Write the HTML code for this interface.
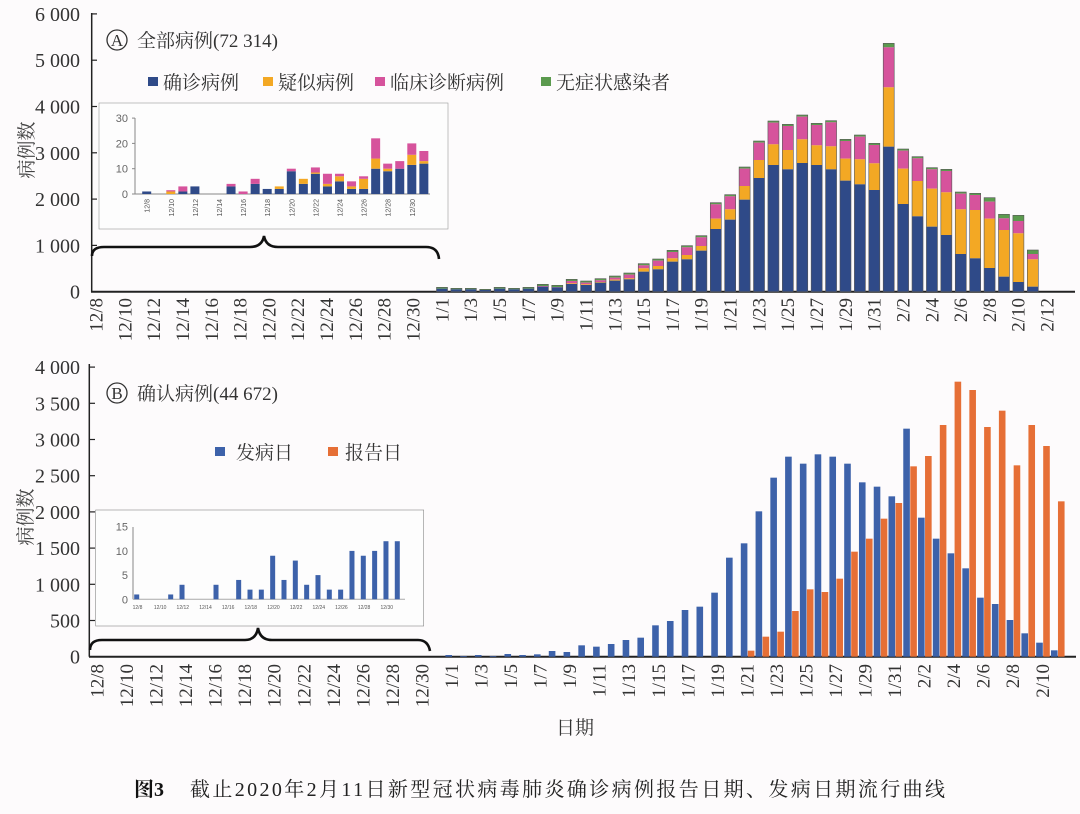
<!DOCTYPE html>
<html><head><meta charset="utf-8"><style>
html,body{margin:0;padding:0;background:#fdfbfc;}
svg{display:block;font-family:"Liberation Serif","Noto Serif CJK SC",serif;}
</style></head><body>
<svg id="s" width="1080" height="814" viewBox="0 0 1080 814" xmlns="http://www.w3.org/2000/svg">
<rect width="1080" height="814" fill="#fdfbfc"/>
<g id="g"></g>
</svg>
<script>
var NS="http://www.w3.org/2000/svg",G=document.getElementById('g');
function el(t,a,txt){var e=document.createElementNS(NS,t);for(var k in a)e.setAttribute(k,a[k]);if(txt!==undefined)e.textContent=txt;G.appendChild(e);return e;}
function rect(x,y,w,h,f,st){el('rect',{x:x,y:y,width:w,height:Math.max(h,0),fill:f,stroke:st||'none','stroke-width':st?0.6:0});}
var F='"Liberation Serif","Noto Serif CJK SC",serif', FS='"Liberation Sans","Noto Sans CJK SC",sans-serif';
var b0=291.7;
el('line',{x1:91.7,y1:13,x2:91.7,y2:b0,stroke:'#222','stroke-width':1.5});
el('line',{x1:91,y1:b0,x2:1075,y2:b0,stroke:'#222','stroke-width':2});
var yl=['0','1 000','2 000','3 000','4 000','5 000','6 000'];
for(var i=0;i<7;i++){var y=b0-i*46.3;el('line',{x1:91.7,y1:y,x2:97,y2:y,stroke:'#222','stroke-width':1.2});
el('text',{x:80,y:y+7,'text-anchor':'end','font-size':20,fill:'#333','font-family':F},yl[i]);}
el('text',{transform:'translate(33,150) rotate(-90)','text-anchor':'middle','font-size':19,fill:'#444','font-family':F},'病例数');
function dlabels(x0,step,yy,last){var ds=[],ix=[];for(var d=8;d<=30;d+=2){ds.push('12/'+d);ix.push(d-8);}for(var d=1;d<=31;d+=2){ds.push('1/'+d);ix.push(24+d-1);}for(var d=2;d<=last;d+=2){ds.push('2/'+d);ix.push(55+d-1);}
 ds.forEach(function(s,i){var x=x0+ix[i]*step;
 el('text',{transform:'translate('+(x+6.5)+','+yy+') rotate(-90)','text-anchor':'end','font-size':19,fill:'#333','font-family':F},s);});}
dlabels(96,14.41,298,12);
var T=[[772,776],[775,778],[775,778],[778,780],[772,776],[775,778],[772,776],[763,770],[766,772],[748,762,760],[753,765,763],[746,758,756],[738,752,749],[729,748,745],[701,725,715],[687,718,708],[661,695,685],[647,688,675],[617,662,648],[518,597,566],[494,569,538],[411,509,468],[333,444,390],[273,405,343],[283,418,360],[255,399,328],[280,405,346],[272,418,349],[328,452,386],[315,463,388],[340,480,400],[40,350,172,52],[357,522,416],[380,559,453],[413,590,476],[418,615,487],[486,672,538],[490,685,540],[503,714,566,515],[553,740,600,565],[556,756,610,573],[660,770,688,672]];
T.forEach(function(d,i){var cx=442+i*14.41,w=11,x=cx-w/2;function Y(v){return 30+v/3;}
 var tot=Y(d[0]),bl=Y(d[1]),or=Y(d[2]!==undefined?d[2]:d[1]),pk=Y(d[3]!==undefined?d[3]:d[0]+5);
 if(pk>or)pk=or;
 rect(x,tot,w,pk-tot,'#5b9a4e');rect(x,pk,w,or-pk,'#d6539c');rect(x,or,w,bl-or,'#f3a824');rect(x,bl,w,b0-bl,'#2f4a88');
 rect(x,tot,w,b0-tot,'none','#555');});
el('circle',{cx:117,cy:40,r:10,fill:'none',stroke:'#333','stroke-width':1.3});
el('text',{x:117,y:46,'text-anchor':'middle','font-size':17,fill:'#333','font-family':F},'A');
el('text',{x:137,y:47,'font-size':19,fill:'#333','font-family':F},'全部病例(72 314)');
[[148,'#2f4a88','确诊病例'],[263,'#f3a824','疑似病例'],[375,'#d6539c','临床诊断病例'],[541,'#5b9a4e','无症状感染者']].forEach(function(l){
 rect(l[0],77,10,9,l[1]);el('text',{x:l[0]+15,y:89,'font-size':19,fill:'#333','font-family':F},l[2]);});
rect(99,103,349,126,'#fdfdfd','#999');
el('line',{x1:135,y1:118,x2:135,y2:194,stroke:'#888','stroke-width':1});
el('line',{x1:135,y1:194,x2:430,y2:194,stroke:'#888','stroke-width':1});
['0','10','20','30'].forEach(function(s,i){var y=194-i*25.3;el('line',{x1:132,y1:y,x2:135,y2:y,stroke:'#888'});el('text',{x:128,y:y+4,'text-anchor':'end','font-size':11,fill:'#666','font-family':FS},s);});
for(var k=0;k<12;k++){var x=146.7+k*2*12.05;el('text',{transform:'translate('+(x+3)+',199) rotate(-90)','text-anchor':'end','font-size':7,fill:'#555','font-family':FS},'12/'+(8+2*k));}
var IA={0:[1,0,0],2:[0,1,0.5],3:[1,0,2],4:[3,0,0],7:[3,0,1],8:[0,0,1],9:[4,0,2],10:[2,0,0],11:[2,1,0],12:[9,0,1],13:[4,2,0],14:[8,0.5,2],15:[3,1,4],16:[5,2,1],17:[2,1,2],18:[2,4,1],19:[10,4,8],20:[9,1,2],21:[10,0,3],22:[11.5,4,4.5],23:[12,1,4]};
for(var k in IA){var v=IA[k],x=146.7+k*12.05-4.5,s=2.53,y=194;
 var hb=v[0]*s,ho=v[1]*s,hp=v[2]*s;rect(x,y-hb,9,hb,'#2f4a88');rect(x,y-hb-ho,9,ho,'#f3a824');rect(x,y-hb-ho-hp,9,hp,'#d6539c');}
el('path',{d:'M92,256 Q92,247 104,247 L250,247 Q262,247 264,236 Q266,247 278,247 L426,247 Q438,247 439,259',fill:'none',stroke:'#111','stroke-width':2.6});
var b1=656.7;
el('line',{x1:89.3,y1:364,x2:89.3,y2:b1,stroke:'#222','stroke-width':1.5});
el('line',{x1:89,y1:b1,x2:1076,y2:b1,stroke:'#222','stroke-width':2});
var yl2=['0','500','1 000','1 500','2 000','2 500','3 000','3 500','4 000'];
for(var i=0;i<9;i++){var y=b1-i*36.2;el('line',{x1:89.3,y1:y,x2:95,y2:y,stroke:'#222','stroke-width':1.2});
el('text',{x:80,y:y+7,'text-anchor':'end','font-size':20,fill:'#333','font-family':F},yl2[i]);}
el('text',{transform:'translate(32,517) rotate(-90)','text-anchor':'middle','font-size':19,fill:'#444','font-family':F},'病例数');
dlabels(97,14.77,664,10);
var BB=[855,858,855,858,852,855,853,843,846,826,830,822,810,803,766,753,720,710,668,563,520,424,323,260,281,253,260,281,337,350,379,176,443,506,550,595,683,702,750,790,818,841];
var OO={19:860,20:842,21:800,22:785,23:723,24:658,25:666,26:626,27:545,28:506,29:446,30:399,31:289,32:258,33:165,34:35,35:60,36:171,37:122,38:286,39:165,40:228,41:394};
BB.forEach(function(v,i){var cx=448.7+i*14.77,y=370+v/3;rect(cx-3.3,y,6.6,b1-y,'#3d62aa');
 if(OO[i]!==undefined){var yo=370+OO[i]/3;rect(cx+3.7,yo,6.6,b1-yo,'#e66f36');}});
el('circle',{cx:117,cy:393,r:10,fill:'none',stroke:'#333','stroke-width':1.3});
el('text',{x:117,y:399,'text-anchor':'middle','font-size':17,fill:'#333','font-family':F},'B');
el('text',{x:137,y:400,'font-size':19,fill:'#333','font-family':F},'确认病例(44 672)');
rect(215,447,10,9,'#3d62aa');el('text',{x:236,y:459,'font-size':19,fill:'#333','font-family':F},'发病日');
rect(328,447,10,9,'#e66f36');el('text',{x:345,y:459,'font-size':19,fill:'#333','font-family':F},'报告日');
rect(95.7,510,328,116,'#fdfdfd','#888');
el('line',{x1:133,y1:527,x2:133,y2:599.3,stroke:'#888','stroke-width':1});
el('line',{x1:133,y1:599.3,x2:405,y2:599.3,stroke:'#aaa','stroke-width':1});
['0','5','10','15'].forEach(function(s,i){var y=599.3-i*24.2;el('text',{x:128,y:y+4,'text-anchor':'end','font-size':11,fill:'#666','font-family':FS},s);});
for(var k=0;k<12;k++){var x=137.5+k*2*11.33;el('text',{x:x,y:609,'text-anchor':'middle','font-size':5,fill:'#555','font-family':FS},'12/'+(8+2*k));}
var IB={0:1,3:1,4:3,7:3,9:4,10:2,11:2,12:9,13:4,14:8,15:3,16:5,17:2,18:2,19:10,20:9,21:10,22:12,23:12};
for(var k in IB){var x=136.7+k*11.33-2.5,h=IB[k]*4.84;rect(x,599.3-h,5,h,'#3d62aa');}
el('path',{d:'M90,650 Q90,640 102,640 L245,640 Q256,640 258,628 Q260,640 272,640 L418,640 Q428,640 430,651',fill:'none',stroke:'#111','stroke-width':2.6});
el('text',{x:575,y:734,'text-anchor':'middle','font-size':19,fill:'#333','font-family':F},'日期');
el('text',{x:134,y:796,'font-size':20,fill:'#111','font-weight':'bold','font-family':F},'图3');
el('text',{x:190,y:796,'font-size':20,fill:'#222','font-family':F,textLength:755,lengthAdjust:'spacing'},'截止2020年2月11日新型冠状病毒肺炎确诊病例报告日期、发病日期流行曲线');
</script>
</body></html>
